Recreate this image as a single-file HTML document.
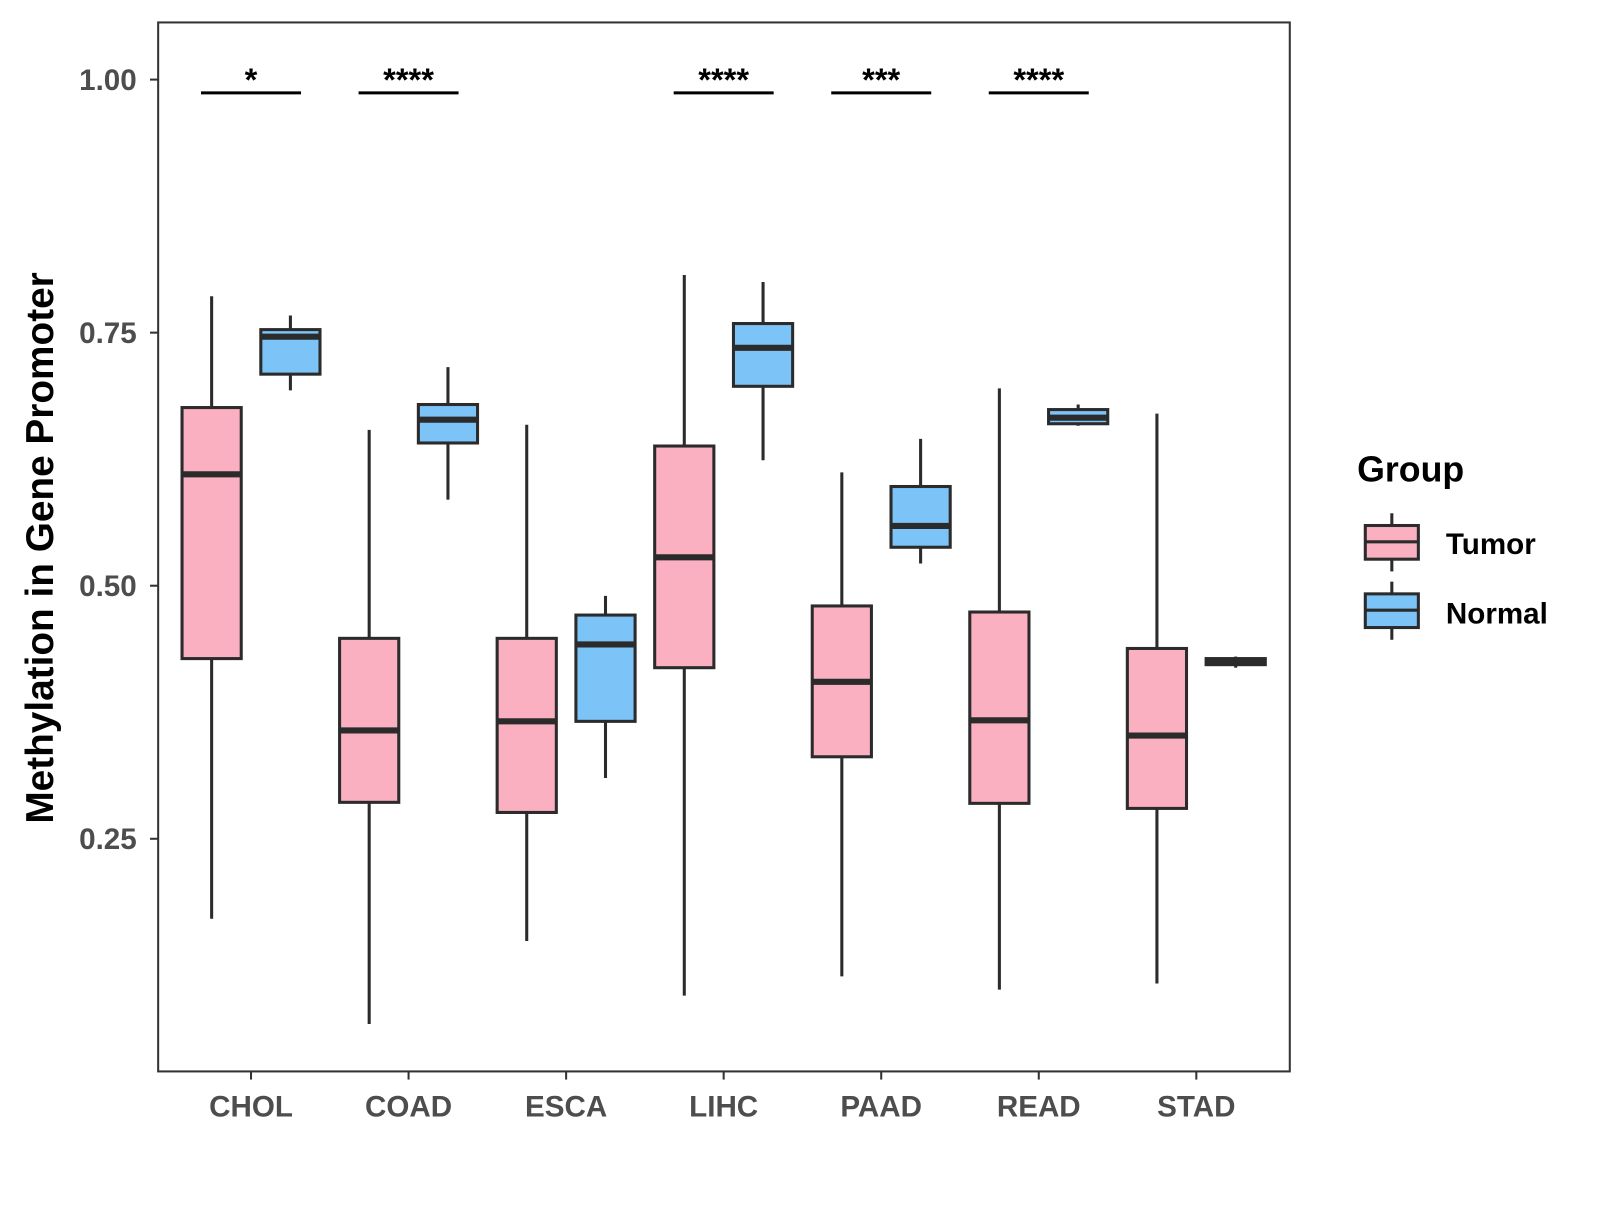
<!DOCTYPE html>
<html><head><meta charset="utf-8"><style>
body{margin:0;background:#fff;width:1600px;height:1200px;overflow:hidden}
svg text{font-family:"Liberation Sans",Arial,sans-serif;font-weight:bold}
</style></head><body>
<svg id="chart" width="1600" height="1200">
<g transform="scale(1.0204)">
<rect x="155" y="22" width="1109" height="1028" fill="#fff" stroke="#333" stroke-width="2"/>
<g id="marks"></g>
<text x="1330" y="472" font-size="35">Group</text>
<g>
<line x1="1364" y1="503" x2="1364" y2="560" stroke="#2b2b2b" stroke-width="3"/>
<rect x="1338" y="515" width="52" height="33" fill="#fbb0c1" stroke="#2b2b2b" stroke-width="3"/>
<line x1="1338" y1="531" x2="1390" y2="531" stroke="#2b2b2b" stroke-width="3"/>
<text x="1417" y="543" font-size="29">Tumor</text></g>
<g>
<line x1="1364" y1="570" x2="1364" y2="627" stroke="#2b2b2b" stroke-width="3"/>
<rect x="1338" y="582" width="52" height="33" fill="#7cc3f7" stroke="#2b2b2b" stroke-width="3"/>
<line x1="1338" y1="598" x2="1390" y2="598" stroke="#2b2b2b" stroke-width="3"/>
<text x="1417" y="611" font-size="29">Normal</text></g>
<text transform="translate(52,537) rotate(-90)" text-anchor="middle" font-size="38">Methylation in Gene Promoter</text>
</g>
</svg>
<script>
const categories=["CHOL","COAD","ESCA","LIHC","PAAD","READ","STAD"];
const tumorStats=[[0.171,0.428,0.610,0.676,0.786],[0.067,0.286,0.357,0.448,0.654],[0.149,0.276,0.366,0.448,0.659],[0.095,0.419,0.528,0.638,0.807],[0.114,0.331,0.405,0.480,0.612],[0.101,0.285,0.367,0.474,0.695],[0.107,0.280,0.352,0.438,0.670]];
const normalStats=[[0.693,0.709,0.746,0.753,0.767],[0.585,0.641,0.664,0.679,0.716],[0.310,0.366,0.442,0.471,0.490],[0.624,0.697,0.735,0.759,0.800],[0.522,0.538,0.559,0.598,0.645],[0.658,0.660,0.666,0.674,0.679],[0.419,0.422,0.425,0.428,0.430]];
const sigLabels=["*","****","","****","***","****",""];
const yTicks=[0.25,0.5,0.75,1.0];
const yTickLabels=["0.25","0.50","0.75","1.00"];
const NS="http://www.w3.org/2000/svg";
const g=document.getElementById('marks');
const y=v=>78+(1-v)*992;
const x=i=>246+i*154.4;
function mk(t,a,p){const e=document.createElementNS(NS,t);for(const k in a)e.setAttribute(k,a[k]);(p||g).appendChild(e);return e;}
yTicks.forEach((v,i)=>{
 const t=mk('line',{x1:147,x2:155,y1:y(v),y2:y(v),stroke:'#333','stroke-width':2});
 
 
 const l=mk('text',{x:134,y:y(v)+10,'text-anchor':'end','font-size':29,fill:'#4d4d4d'});
 l.textContent=yTickLabels[i];
 
 
});
function box(cx,s,fill,name){
 const w=58;
 const gg=mk('g',{});
 
 
 mk('line',{x1:cx,x2:cx,y1:y(s[0]),y2:y(s[4]),stroke:'#2b2b2b','stroke-width':3},gg);
 mk('rect',{x:cx-w/2,y:y(s[3]),width:w,height:y(s[1])-y(s[3]),fill:fill,stroke:'#2b2b2b','stroke-width':3},gg);
 mk('line',{x1:cx-w/2,x2:cx+w/2,y1:y(s[2]),y2:y(s[2]),stroke:'#2b2b2b','stroke-width':6},gg);
}
categories.forEach((c,i)=>{
 const cx=x(i);
 box(cx-38.6,tumorStats[i],'#fbb0c1','box-tumor-'+c.toLowerCase());
 box(cx+38.6,normalStats[i],'#7cc3f7','box-normal-'+c.toLowerCase());
 const t=mk('line',{x1:cx,x2:cx,y1:1050,y2:1058,stroke:'#333','stroke-width':2});
 
 
 const l=mk('text',{x:cx,y:1094,'text-anchor':'middle','font-size':29,fill:'#4d4d4d'});
 l.textContent=c;
 
 
 if(sigLabels[i]){
  const b=mk('line',{x1:cx-49,x2:cx+49,y1:91,y2:91,stroke:'#000','stroke-width':3});
  
  
  const s=mk('text',{x:cx,y:89,'text-anchor':'middle','font-size':32,fill:'#000'});
  s.textContent=sigLabels[i];
  
  
 }
});
</script>
</body></html>
